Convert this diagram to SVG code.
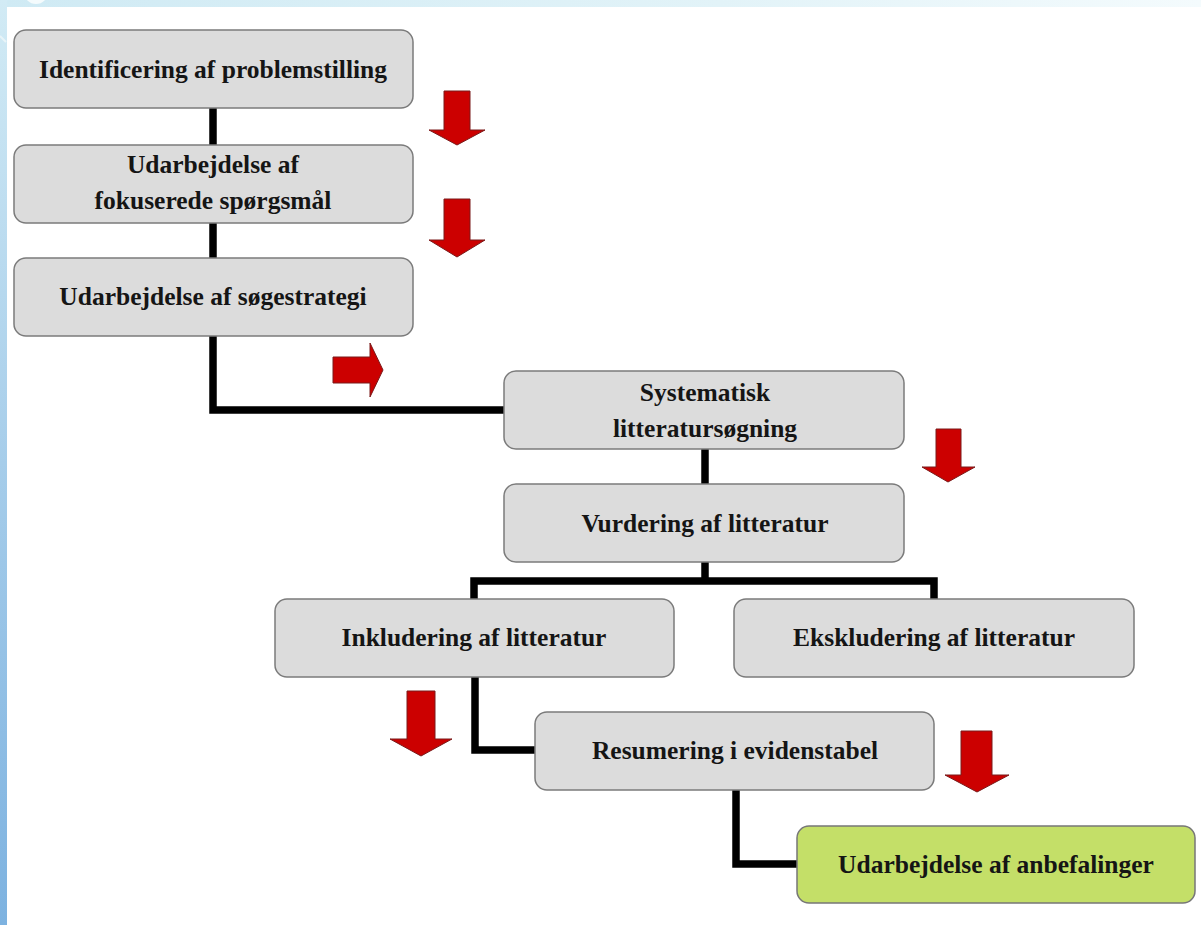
<svg xmlns="http://www.w3.org/2000/svg" width="1201" height="925" viewBox="0 0 1201 925">
<defs>
<linearGradient id="topg" x1="0" y1="0" x2="1" y2="0">
<stop offset="0" stop-color="#cfeaf4"/>
<stop offset="0.6" stop-color="#e2f3f8"/>
<stop offset="1" stop-color="#f4fbfd"/>
</linearGradient>
<linearGradient id="leftg" x1="0" y1="0" x2="0" y2="1">
<stop offset="0" stop-color="#d2ebf5"/>
<stop offset="0.5" stop-color="#a6cdea"/>
<stop offset="1" stop-color="#7db2e0"/>
</linearGradient>
<style>
.box{fill:#dcdcdc;stroke:#7b7b7b;stroke-width:1.5}
.green{fill:#c4df68;stroke:#777;stroke-width:1.5}
.lbl{font-family:"Liberation Serif","DejaVu Serif",serif;font-weight:bold;font-size:25.5px;fill:#151515;text-anchor:middle}
.conn{fill:none;stroke:#000;stroke-width:7.5;stroke-linejoin:miter;stroke-linecap:butt}
.arr{fill:#cc0000;stroke:#7a1a1a;stroke-width:1}
</style>
</defs>
<rect width="1201" height="925" fill="#ffffff"/>
<rect x="0" y="0" width="1201" height="7" fill="url(#topg)"/>
<rect x="0" y="0" width="7" height="925" fill="url(#leftg)"/>
<circle cx="36" cy="-8" r="12" fill="#f4fbfd"/>
<path d="M0 36 L6 42" stroke="#e8f4f8" stroke-width="2"/>

<g id="connectors">
<path class="conn" d="M213 108 V145"/>
<path class="conn" d="M213 223 V258"/>
<path class="conn" d="M213 336 V410 H504"/>
<path class="conn" d="M705 449 V484"/>
<path class="conn" d="M705 562 V581"/>
<path class="conn" d="M474 599 V581 H934 V599"/>
<path class="conn" d="M475 677 V750 H535"/>
<path class="conn" d="M736 790 V864 H797"/>
</g>

<g id="arrows">
<path class="arr" d="M444 91 H470 V130 H485 L457 145 L429 130 H444 Z"/>
<path class="arr" d="M444 199 H470 V240 H485 L457 257 L429 240 H444 Z"/>
<path class="arr" d="M333 357 H370 V343 L383 370 L370 397 V383 H333 Z"/>
<path class="arr" d="M936 429 H961 V467 H975 L948 482 L922 467 H936 Z"/>
<path class="arr" d="M407 691 H435 V739 H452 L421 756 L390 739 H407 Z"/>
<path class="arr" d="M961 731 H992 V775 H1009 L977 792 L945 775 H961 Z"/>
</g>

<g id="n1">
<rect class="box" x="14" y="30" width="399" height="78" rx="12"/>
<text class="lbl" x="213" y="78">Identificering af problemstilling</text>
</g>
<g id="n2">
<rect class="box" x="14" y="145" width="399" height="78" rx="12"/>
<text class="lbl" x="213" y="173">Udarbejdelse af</text>
<text class="lbl" x="213" y="209">fokuserede spørgsmål</text>
</g>
<g id="n3">
<rect class="box" x="14" y="258" width="399" height="78" rx="12"/>
<text class="lbl" x="213" y="305">Udarbejdelse af søgestrategi</text>
</g>
<g id="n4">
<rect class="box" x="504" y="371" width="400" height="78" rx="12"/>
<text class="lbl" x="705" y="401">Systematisk</text>
<text class="lbl" x="705" y="437">litteratursøgning</text>
</g>
<g id="n5">
<rect class="box" x="504" y="484" width="400" height="78" rx="12"/>
<text class="lbl" x="705" y="532">Vurdering af litteratur</text>
</g>
<g id="n6">
<rect class="box" x="275" y="599" width="399" height="78" rx="12"/>
<text class="lbl" x="474" y="646">Inkludering af litteratur</text>
</g>
<g id="n7">
<rect class="box" x="734" y="599" width="400" height="78" rx="12"/>
<text class="lbl" x="934" y="646">Ekskludering af litteratur</text>
</g>
<g id="n8">
<rect class="box" x="535" y="712" width="399" height="78" rx="12"/>
<text class="lbl" x="735" y="759">Resumering i evidenstabel</text>
</g>
<g id="n9">
<rect class="green" x="797" y="826" width="398" height="77" rx="12"/>
<text class="lbl" x="996" y="873">Udarbejdelse af anbefalinger</text>
</g>
</svg>
